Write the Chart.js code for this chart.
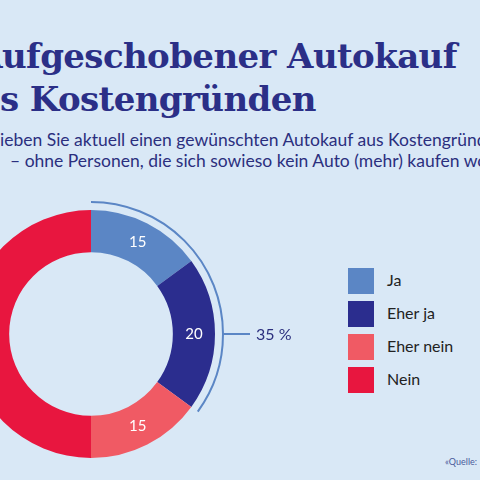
<!DOCTYPE html>
<html><head><meta charset="utf-8">
<script src="https://cdn.jsdelivr.net/npm/chart.js@4/dist/chart.umd.min.js"></script>
<style>
html,body{margin:0;width:480px;height:480px;overflow:hidden;background:#d9e8f6;position:relative;font-family:Lato,sans-serif}
.t{position:absolute;white-space:nowrap;font-family:"DejaVu Serif",serif;font-weight:bold;font-size:34px;color:#2b2f87;letter-spacing:-0.6px}
.s{position:absolute;white-space:nowrap;font-size:17.5px;color:#2b2f7e}
#wrap{position:absolute;left:-59px;top:184px;width:360px;height:300px}
#legend{position:absolute;left:348px;top:268px}
.li{height:33px;display:flex;align-items:flex-start;font-size:16px;color:#222}
.sw{width:26px;height:26px;margin-right:13px}
.q{position:absolute;left:445px;top:456px;font-size:9px;color:#4a5a9a;white-space:nowrap}
</style></head><body>
<div class="t" id="t1" style="top:36px">Aufgeschobener Autokauf</div>
<div class="t" id="t2" style="top:79px">aus Kostengründen</div>
<div class="s" id="s1" style="top:129px">Verschieben Sie aktuell einen gewünschten Autokauf aus Kostengründen?</div>
<div class="s" style="left:10px;top:150px">– ohne Personen, die sich sowieso kein Auto (mehr) kaufen wollen</div>
<div id="wrap"><canvas id="c"></canvas></div>
<div id="legend"></div>
<div class="q">«Quelle:</div>
<script>
const categories=["Ja","Eher ja","Eher nein","Nein"];
const values=[15,20,15,50];
const colors=["#5b86c5","#2b2d8e","#f05a64","#e8163f"];
const bracketLabel="35 %";

function offs(id,prefix,target){const e=document.getElementById(id);const sp=document.createElement('span');sp.style.visibility='hidden';sp.style.font=getComputedStyle(e).font;sp.style.letterSpacing=getComputedStyle(e).letterSpacing;sp.style.position='absolute';sp.style.whiteSpace='pre';sp.textContent=prefix;document.body.appendChild(sp);e.style.left=(target-sp.getBoundingClientRect().width)+'px';sp.remove();}
offs('t1','A',2);offs('t2','au',0);offs('s1','Versch',0);

const lg=document.getElementById('legend');
categories.forEach((c,i)=>{lg.innerHTML+=`<div class="li"><div class="sw" style="background:${colors[i]}"></div><span style="line-height:24px">${c}</span></div>`});

const extra={id:'extra',afterDatasetsDraw(ch){
 const ctx=ch.ctx;const m=ch.getDatasetMeta(0);
 m.data.forEach((a,i)=>{if(i===3)return;const p=a.tooltipPosition();ctx.save();ctx.fillStyle='#fff';ctx.font='15px Lato';ctx.textAlign='center';ctx.textBaseline='middle';ctx.fillText(values[i],p.x,p.y);ctx.restore();});
 const a0=m.data[0],a1=m.data[1];const cx=a0.x,cy=a0.y,r=a0.outerRadius+8;
 ctx.save();ctx.strokeStyle='#5b86c5';ctx.lineWidth=2;
 ctx.beginPath();ctx.arc(cx,cy,r,a0.startAngle,a1.endAngle);ctx.stroke();
 ctx.beginPath();ctx.moveTo(cx+r,cy);ctx.lineTo(cx+r+27,cy);ctx.stroke();
 ctx.fillStyle='#2b2f7e';ctx.font='16px Lato';ctx.textBaseline='middle';ctx.fillText(bracketLabel,cx+r+33,cy+1);
 ctx.restore();}};

new Chart(document.getElementById('c'),{type:'doughnut',
 data:{labels:categories,datasets:[{data:values,backgroundColor:colors,borderWidth:0}]},
 options:{responsive:true,maintainAspectRatio:false,animation:false,cutout:'66%',
  layout:{padding:{left:26,right:86,top:26,bottom:26}},
  plugins:{legend:{display:false},tooltip:{enabled:false}}},
 plugins:[extra]});
</script></body></html>
